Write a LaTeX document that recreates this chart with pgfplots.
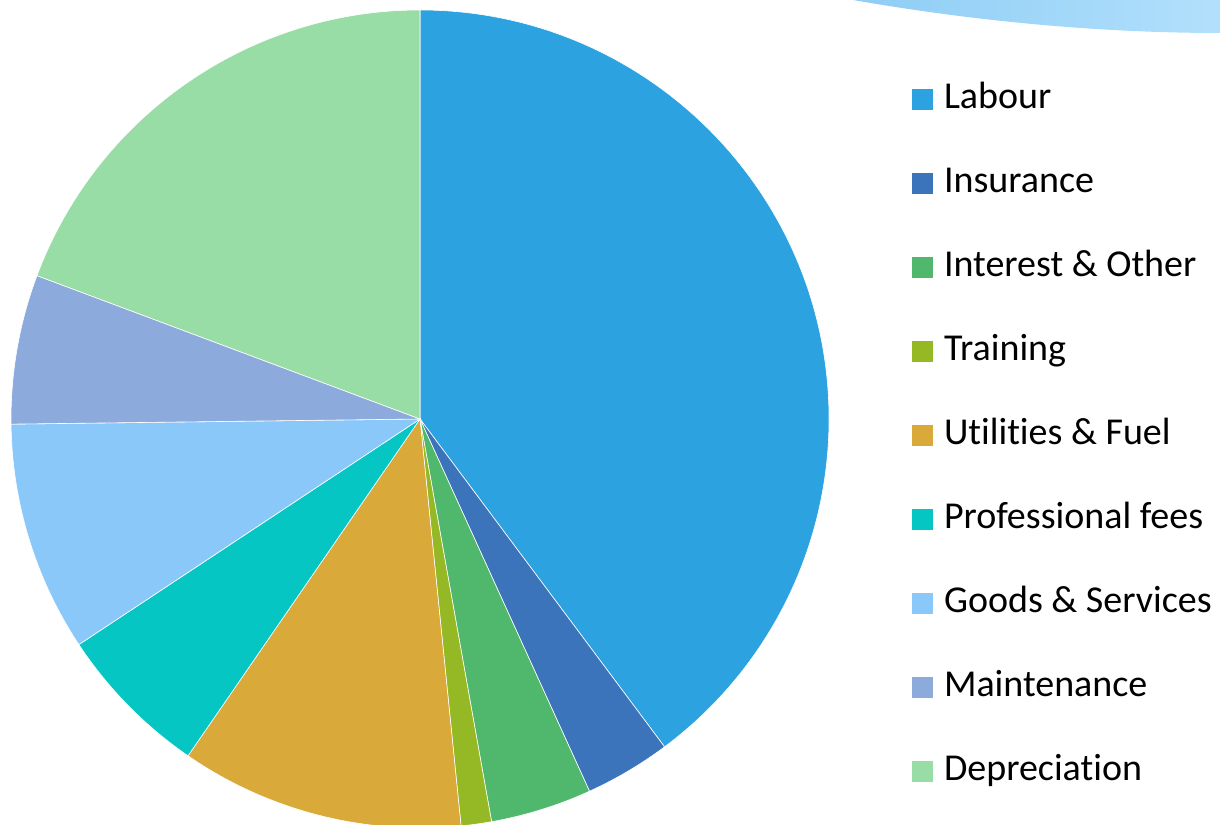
\documentclass[border=0pt]{standalone}
\usepackage{pgfplots}
\pgfplotsset{compat=1.18}
\usepackage{fontspec}
\setmainfont{Carlito}[Ligatures=NoCommon]
\definecolor{labour}{HTML}{2CA2E1}
\definecolor{insurance}{HTML}{3C74BC}
\definecolor{interest}{HTML}{50B86C}
\definecolor{training}{HTML}{95B924}
\definecolor{utilities}{HTML}{D9A93A}
\definecolor{professional}{HTML}{06C6C4}
\definecolor{goods}{HTML}{8BC8FA}
\definecolor{maintenance}{HTML}{8DAADC}
\definecolor{depreciation}{HTML}{98DCA6}
\definecolor{swooshA}{HTML}{8ECDF5}
\definecolor{swooshB}{HTML}{B2E0FC}
\begin{document}
\begin{tikzpicture}
\useasboundingbox (0,0) rectangle (610bp,412.5bp);
\begin{axis}[
  at={(0,0)}, anchor=south west,
  scale only axis, width=610bp, height=412.5bp,
  xmin=0, xmax=1220, ymin=0, ymax=825,
  hide axis, clip=true,
  legend cell align=left,
  legend image code/.code={\fill[#1, draw=none] (0bp,-5.25bp) rectangle (10.5bp,5.25bp);},
  legend style={at={(axis cs:912,742)}, anchor=north west, draw=none, fill=none,
    font=\fontsize{19bp}{22bp}\selectfont, row sep=25bp, column sep=5.5bp,
    inner sep=0pt, outer sep=0pt,
    nodes={inner sep=0pt, text height=13bp, text depth=4bp}},
]
\pgfplotsextra{
  \shade[overlay, left color=swooshA, right color=swooshB]
    (axis cs:853,825) .. controls (axis cs:950,808) and (axis cs:1080,792) .. (axis cs:1220,792)
    -- (axis cs:1220,825) -- cycle;
  \xdef\startangle{90}
  \foreach \v/\c in {39.8/labour, 3.4/insurance, 4.0/interest, 1.2/training,
                     11.2/utilities, 6.1/professional, 9.1/goods, 5.9/maintenance,
                     19.3/depreciation}{
    \pgfmathsetmacro\endangle{\startangle-\v*3.6}
    \fill[overlay, \c, draw=white, line width=0.3bp] (axis cs:420,406) -- ++(\startangle:204.5bp)
      arc[start angle=\startangle, end angle=\endangle, radius=204.5bp] -- cycle;
    \xdef\startangle{\endangle}
  }
}
\addlegendimage{fill=labour}\addlegendentry{Labour}
\addlegendimage{fill=insurance}\addlegendentry{Insurance}
\addlegendimage{fill=interest}\addlegendentry{Interest \& Other}
\addlegendimage{fill=training}\addlegendentry{Training}
\addlegendimage{fill=utilities}\addlegendentry{Utilities \& Fuel}
\addlegendimage{fill=professional}\addlegendentry{Professional fees}
\addlegendimage{fill=goods}\addlegendentry{Goods \& Services}
\addlegendimage{fill=maintenance}\addlegendentry{Maintenance}
\addlegendimage{fill=depreciation}\addlegendentry{Depreciation}
\end{axis}
\end{tikzpicture}
\end{document}
